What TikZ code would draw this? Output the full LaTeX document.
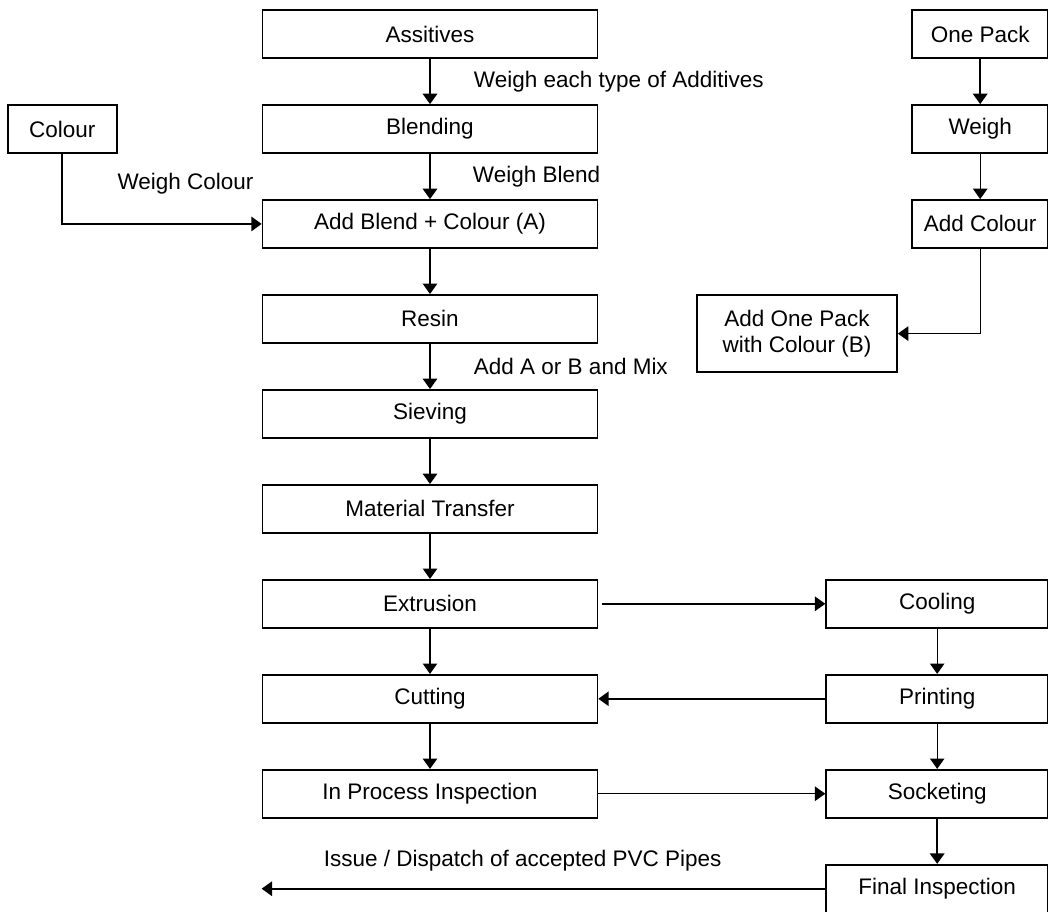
\documentclass[tikz,border=0pt]{standalone}
\usepackage{fontspec}
\setmainfont{Liberation Sans}
\usetikzlibrary{arrows.meta,positioning}

\begin{document}
\begin{tikzpicture}[
    node distance=1.132cm and 1cm,
    box/.style={draw, line width=1.2pt, align=center, minimum height=1.2cm, minimum width=8.375cm, inner sep=2pt, font=\fontsize{16}{19}\selectfont},
    sbox/.style={box, minimum width=3.4cm},
    rbox/.style={box, minimum width=5.55cm},
    lbl/.style={inner sep=0pt, font=\fontsize{16}{19}\selectfont},
    arr/.style={-{Triangle[length=2.6mm, width=3.6mm]}, line width=1.4pt},
    tarr/.style={arr, line width=0.8pt}
  ]
  \useasboundingbox (0,0) rectangle (26.2,-22.8);
  % main line
  \node[box] (ass) at (10.75,-0.85) {Assitives};
  \node[box, below=of ass] (blend) {Blending};
  \node[box, below=of blend] (addbc) {Add Blend + Colour (A)};
  \node[box, below=of addbc] (resin) {Resin};
  \node[box, below=of resin] (sieve) {Sieving};
  \node[box, below=of sieve] (mtrans) {Material Transfer};
  \node[box, below=of mtrans] (extr) {Extrusion};
  \node[box, below=of extr] (cut) {Cutting};
  \node[box, below=of cut] (ipi) {In Process Inspection};
  % colour
  \node[box, minimum width=2.725cm, left=3.6cm of blend] (colour) {Colour};
  % one pack
  \node[sbox, right=7.825cm of ass] (onepack) {One Pack};
  \node[sbox, below=of onepack] (weigh) {Weigh};
  \node[sbox, below=of weigh] (addcol) {Add Colour};
  \node[box, minimum width=5cm, minimum height=1.925cm] (addop) at (19.925,-8.34) {Add One Pack\\with Colour (B)};
  % right line
  \node[rbox, right=5.675cm of extr] (cool) {Cooling};
  \node[rbox, below=of cool] (print) {Printing};
  \node[rbox, below=of print] (sock) {Socketing};
  \node[rbox, below=of sock] (fin) {Final Inspection};

  \draw[arr] (ass) -- node[lbl, right=1.075cm] (wadd) {Weigh each type of Additives} (blend);
  \draw[arr] (blend) -- node[lbl, right=1.05cm] (wblend) {Weigh Blend} (addbc);
  \draw[tarr] (addbc) -- (resin);
  \draw[arr] (resin) -- node[lbl, right=1.075cm] (addab) {Add A or B and Mix} (sieve);
  \draw[arr] (sieve) -- (mtrans);
  \draw[tarr] (mtrans) -- (extr);
  \draw[tarr] (extr) -- (cut);
  \draw[arr] (cut) -- (ipi);
  \draw[arr] (colour.south) |- (addbc.west);
  \node[lbl, above left=0.74cm and 0.2cm of addbc.west] (wcol) {Weigh Colour};
  \draw[arr] (onepack) -- (weigh);
  \draw[tarr] (weigh) -- (addcol);
  \draw[tarr] (addcol.south) |- (addop.east);
  \draw[arr, line width=1.1pt, shorten <=1mm] (extr) -- (cool);
  \draw[tarr] (cool) -- (print);
  \draw[arr] (print) -- (cut);
  \draw[tarr] (print) -- (sock);
  \draw[tarr] (ipi) -- (sock);
  \draw[arr] (sock) -- (fin);
  \coordinate (dispatch) at (ipi.west |- fin.west);
  \draw[arr] (fin.west) -- node[lbl, above=0.42cm, pos=0.537] (dlbl) {Issue / Dispatch of accepted PVC Pipes} (dispatch);
\end{tikzpicture}
\end{document}
